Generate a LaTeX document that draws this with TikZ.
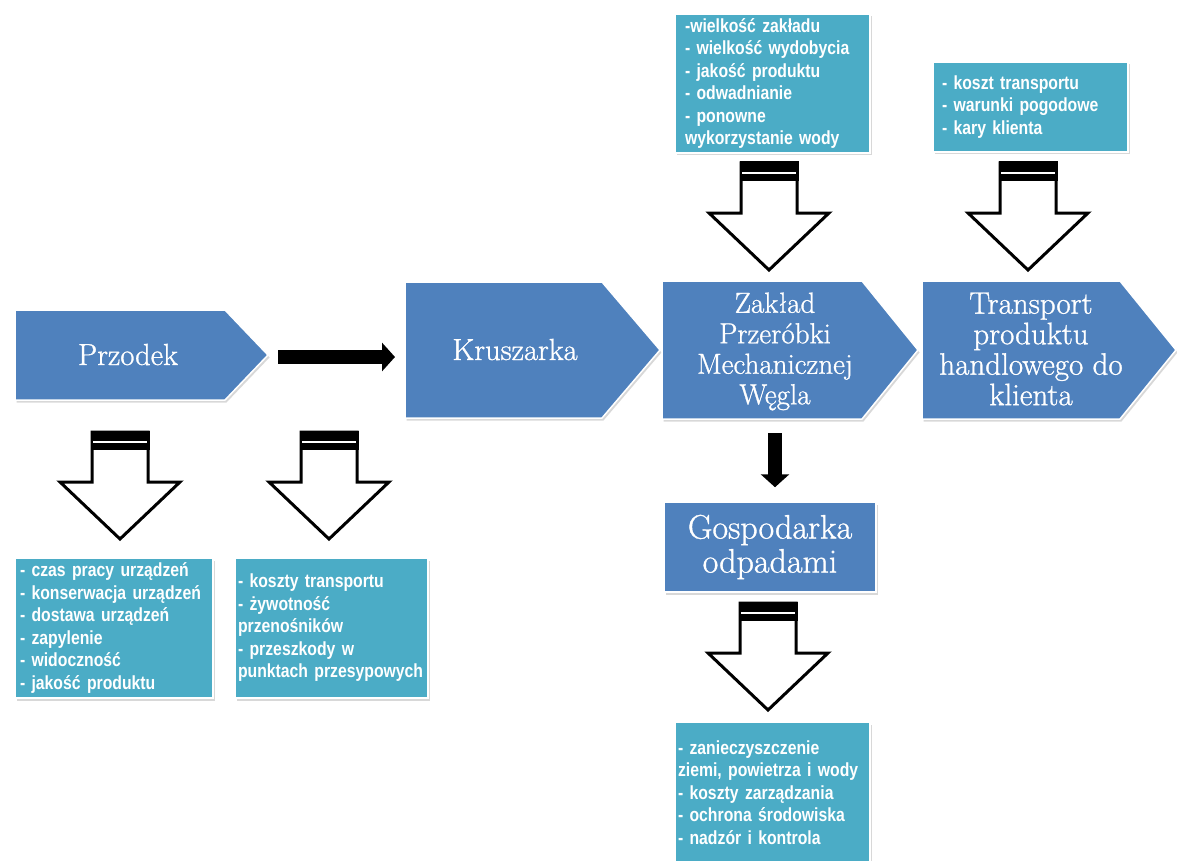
\documentclass[tikz,border=0pt]{standalone}
\usepackage{fontspec}
\newfontfamily\boxfont[FakeStretch=0.83]{Liberation Sans}
\newfontfamily\stepfont[FakeBold=1]{Latin Modern Roman}
\usetikzlibrary{arrows.meta,shadows}
\definecolor{stepblue}{RGB}{79,129,189}
\definecolor{noteteal}{RGB}{75,172,198}
\begin{document}
\begin{tikzpicture}[x=1pt,y=-1pt,
  softshadow/.style={drop shadow={shadow xshift=1.5pt,shadow yshift=-2.5pt,opacity=.3}},
  pent/.style={fill=stepblue, draw=white, line width=1.5pt, line join=round, softshadow},
  penttext/.style={text=white, align=center, inner sep=0pt},
  stepbox/.style={rectangle, fill=stepblue, draw=white, line width=1.5pt, softshadow,
    text=white, align=center, inner sep=0pt},
  note/.style={rectangle, fill=noteteal, draw=white, line width=1.5pt, softshadow,
    text=white, align=left, inner ysep=0pt,
    font={\boxfont\bfseries\fontsize{19pt}{22.5pt}\selectfont}},
  solidarrow/.style={draw=black, line width=14pt, -{Triangle[length=13pt,width=28pt]}},
  hollow/.pic={
    \draw[line width=3pt, fill=white, line join=miter]
      (-28,0) -- (28,0) -- (28,50) -- (60,50) -- (0,107) -- (-60,50) -- (-28,50) -- cycle;
    \fill[black] (-29.5,-1.5) rectangle (29.5,18);
    \draw[white, line width=2.5pt] (-27,10) -- (27,10);
  }]
\clip (0,0) rectangle (1177,861);
\fill[white] (0,0) rectangle (1177,861);

% process chain
\path[pent] (15,310) -- (225,310) -- (268,355) -- (225,400) -- (15,400) -- cycle;
\coordinate (pz-tip) at (268,357);
\node[penttext, anchor=base, font=\stepfont\fontsize{30.5pt}{32pt}\selectfont] (przodek) at (128,365) {Przodek};

\path[pent] (405,282) -- (602,282) -- (660,350) -- (602,418) -- (405,418) -- cycle;
\coordinate (kr-west) at (405,357);
\node[penttext, anchor=base, font=\stepfont\fontsize{30.5pt}{32pt}\selectfont] (kruszarka) at (515,360) {Kruszarka};

\path[pent] (662,281) -- (862,281) -- (918,350) -- (862,419) -- (662,419) -- cycle;
\coordinate (zk-bottom) at (775,419);
\node[penttext, font=\stepfont\fontsize{29pt}{30.5pt}\selectfont] (zaklad) at (775,351.5)
  {Zakład\\Przeróbki\\Mechanicznej\\Węgla};

\path[pent] (922,281) -- (1120,281) -- (1176,350) -- (1120,419) -- (922,419) -- cycle;
\node[penttext, font=\stepfont\fontsize{31pt}{30.5pt}\selectfont] (transport) at (1031,349)
  {Transport\\produktu\\handlowego do\\klienta};

\node[stepbox, minimum width=212pt, minimum height=90pt,
  font=\stepfont\fontsize{34pt}{34pt}\selectfont] (gosp) at (770,547) {Gospodarka\\odpadami};

% solid connectors
\draw[solidarrow, shorten <=10pt, shorten >=10pt] (pz-tip) -- (kr-west);
\coordinate (gs-in) at (zk-bottom |- gosp.north);
\draw[solidarrow] ([yshift=-14pt]zk-bottom) -- ([yshift=14pt]gs-in);

% factor notes
\node[note, minimum width=195pt, minimum height=139pt, inner xsep=10pt, text width=175pt]
  (n-zaklad) at (772.5,83.5)
  {-wielkość zakładu\\- wielkość wydobycia\\- jakość produktu\\- odwadnianie\\- ponowne\\wykorzystanie wody};
\node[note, minimum width=195pt, minimum height=90pt, inner xsep=9pt, text width=177pt]
  (n-transport) at (1030.5,107)
  {- koszt transportu\\- warunki pogodowe\\- kary klienta};
\node[note, minimum width=198pt, minimum height=140pt, inner xsep=5pt, text width=188pt]
  (n-przodek) at (114,628)
  {- czas pracy urządzeń\\- konserwacja urządzeń\\- dostawa urządzeń\\- zapylenie\\- widoczność\\- jakość produktu};
\node[note, minimum width=193pt, minimum height=140pt, inner xsep=3pt, text width=187pt]
  (n-tasma) at (331.5,628)
  {- koszty transportu\\- żywotność\\przenośników\\- przeszkody w\\punktach przesypowych};
\node[note, minimum width=195pt, minimum height=141pt, inner xsep=3pt, text width=189pt]
  (n-odpady) at (772.5,792.5)
  {- zanieczyszczenie\\ziemi, powietrza i wody\\- koszty zarządzania\\- ochrona środowiska\\- nadzór i kontrola};

% block arrows between notes and steps
\pic at (769,163) {hollow};
\pic at (1028,163) {hollow};
\pic at (120,432) {hollow};
\pic at (329,432) {hollow};
\pic at (768,603) {hollow};
\end{tikzpicture}
\end{document}
